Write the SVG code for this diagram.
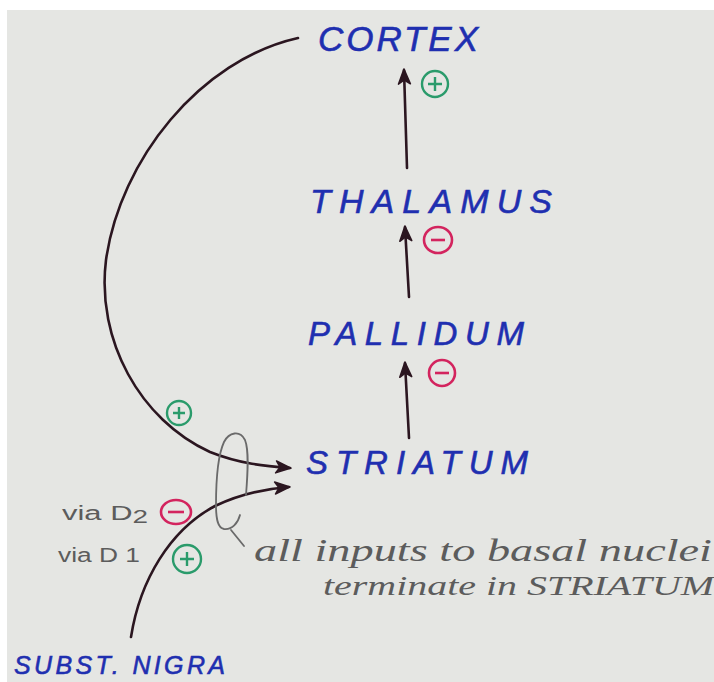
<svg xmlns="http://www.w3.org/2000/svg" width="714" height="682" viewBox="0 0 714 682">
<style>
.cap{font-family:"Liberation Sans",Arial,sans-serif;font-style:italic;fill:#1f2fb0;stroke:#1f2fb0;stroke-width:0.6}
.hand{font-family:"Liberation Serif","Times New Roman",serif;font-style:italic;fill:#5c5c5c}
.via{font-family:"Liberation Sans",Arial,sans-serif;fill:#5c5c5c}
.ink{fill:none;stroke:#2b1620;stroke-width:2.6;stroke-linecap:round}
.pencil{fill:none;stroke:#6a6a6a;stroke-width:1.8;stroke-linecap:round;stroke-linejoin:round}
.pos{fill:none;stroke:#2a9b6b;stroke-width:2.4}
.neg{fill:none;stroke:#d3245e;stroke-width:2.6}
</style>
<defs>
<marker id="ah" viewBox="0 0 16 12" refX="14" refY="6" markerWidth="16" markerHeight="12" orient="auto" markerUnits="userSpaceOnUse" overflow="visible">
<path d="M0,0 L15,6 L0,12 L4,6 Z" fill="#2b1620" stroke="#2b1620" stroke-width="1.5" stroke-linejoin="round"/>
</marker>
</defs>
<rect x="0" y="0" width="714" height="682" fill="#ffffff"/>
<rect x="7" y="10" width="707" height="672" fill="#e5e6e3"/>

<g id="connectors">
<path class="ink" d="M407,168 L404,70" marker-end="url(#ah)"/>
<path class="ink" d="M409,297 L405,227" marker-end="url(#ah)"/>
<path class="ink" d="M409,438 L405,363" marker-end="url(#ah)"/>
<path class="ink" d="M298,38 C200,60 120,160 106,260 C96,340 140,420 210,452 C240,464 265,466 290,468" marker-end="url(#ah)"/>
<path class="ink" d="M131,637 C140,580 170,530 215,506 C240,494 262,489 289,487" marker-end="url(#ah)"/>
</g>

<g id="bracket">
<path class="pencil" d="M240,515 C238,523 232,530 224,529 C218,528 216,520 216,505 C216,480 218,455 224,442 C229,432 240,430 245,440 C249,450 248,470 246,495"/>
<path class="pencil" d="M231,530 L244,546"/>
</g>

<g id="signs">
<g id="sign-cortex"><circle class="pos" cx="435" cy="84" r="13"/><path class="pos" d="M428,84 H442 M435,77 V91"/></g>
<g id="sign-thalamus"><ellipse class="neg" cx="438" cy="240" rx="14" ry="13"/><path class="neg" d="M431,240 H445" stroke-width="3.5"/></g>
<g id="sign-pallidum"><ellipse class="neg" cx="442" cy="373" rx="13" ry="13"/><path class="neg" d="M435,373 H449" stroke-width="3.5"/></g>
<g id="sign-cortex-striatum"><circle class="pos" cx="179" cy="413" r="12"/><path class="pos" d="M173,413 H185 M179,407 V419"/></g>
<g id="sign-d2"><ellipse class="neg" cx="176" cy="512" rx="15" ry="12"/><path class="neg" d="M168,512 H184" stroke-width="3.5"/></g>
<g id="sign-d1"><circle class="pos" cx="187" cy="559" r="14"/><path class="pos" d="M180,559 H194 M187,552 V566"/></g>
</g>

<g id="cortex"><text class="cap" x="318" y="51" font-size="35" textLength="160" lengthAdjust="spacing">CORTEX</text></g>
<g id="thalamus"><text class="cap" x="310" y="213" font-size="34" textLength="242" lengthAdjust="spacing">THALAMUS</text></g>
<g id="pallidum"><text class="cap" x="308" y="345" font-size="33" textLength="216" lengthAdjust="spacing">PALLIDUM</text></g>
<g id="striatum"><text class="cap" x="306" y="474" font-size="33" textLength="222" lengthAdjust="spacing">STRIATUM</text></g>
<g id="substnigra"><text class="cap" x="14" y="674" font-size="25" textLength="211" lengthAdjust="spacing">SUBST. NIGRA</text></g>

<g id="labels">
<text class="via" x="62" y="520" font-size="20" textLength="86" lengthAdjust="spacingAndGlyphs">via D<tspan font-size="18" dy="3">2</tspan></text>
<text class="via" x="58" y="562" font-size="20" textLength="82" lengthAdjust="spacingAndGlyphs">via D 1</text>
<text class="hand" x="254" y="561" font-size="31" textLength="458" lengthAdjust="spacingAndGlyphs">all inputs to basal nuclei</text>
<text class="hand" x="323" y="595" font-size="28" textLength="391" lengthAdjust="spacingAndGlyphs">terminate in STRIATUM</text>
</g>
</svg>
